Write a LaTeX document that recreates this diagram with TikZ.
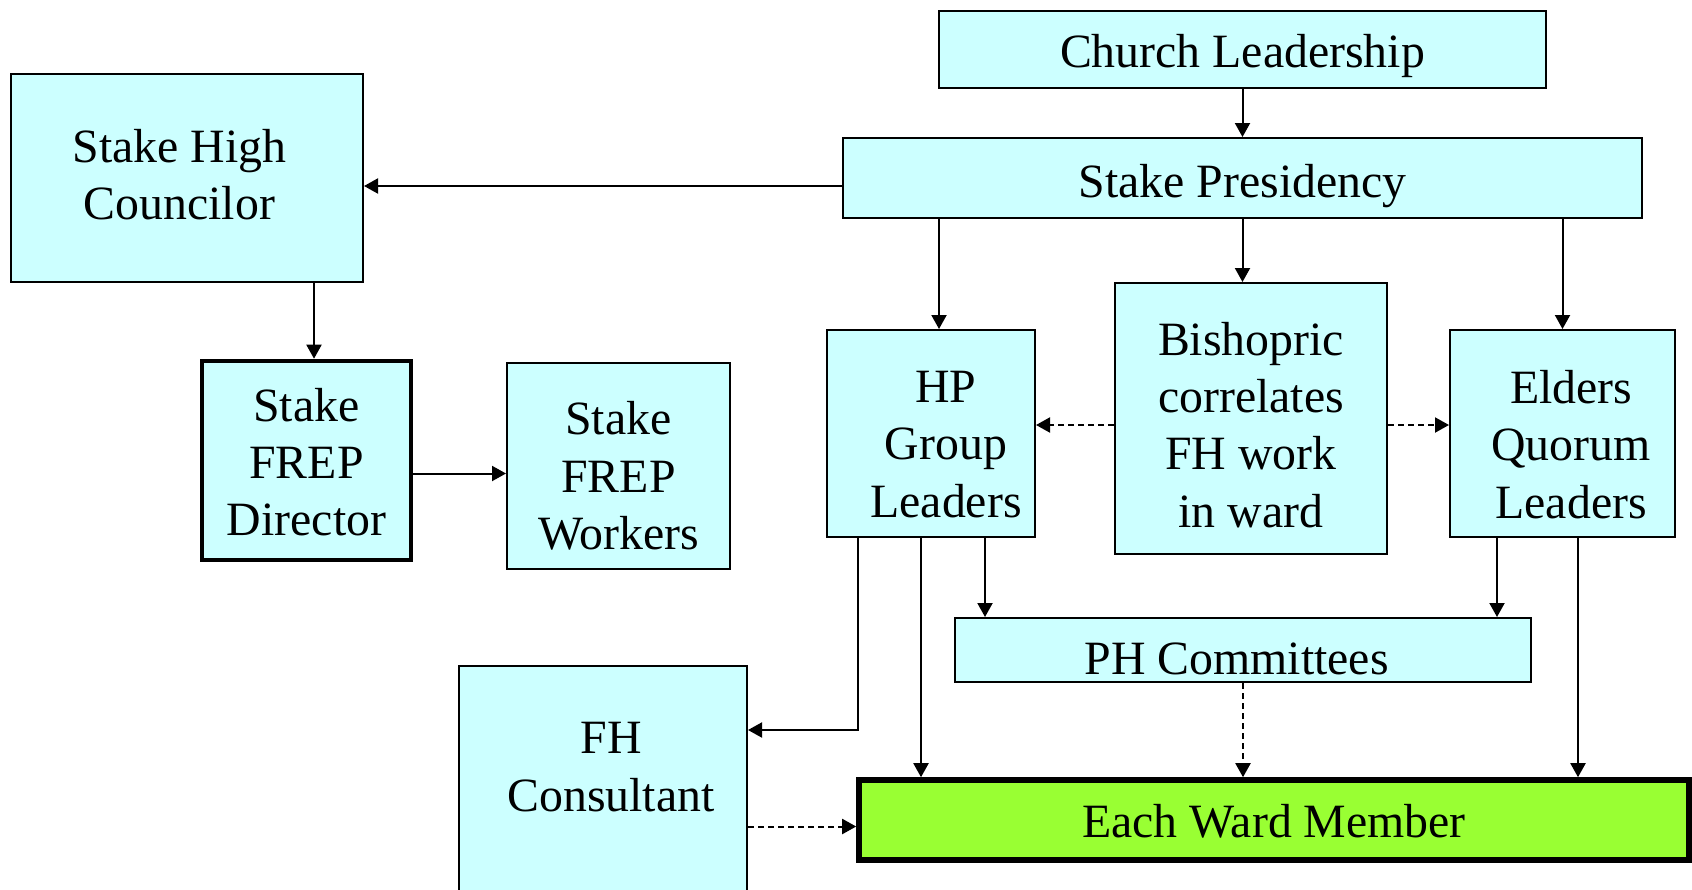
\documentclass[tikz,border=0pt]{standalone}
\usepackage{fontspec}
\setmainfont{Liberation Serif}
\usetikzlibrary{arrows.meta}
\definecolor{boxcyan}{HTML}{CCFFFF}
\definecolor{boxgreen}{HTML}{99FF33}
\tikzset{
  orgbox/.style={draw=black, line width=1pt, fill=boxcyan, inner sep=0pt},
  thickbox/.style={orgbox, line width=2.3pt},
  txt/.style={align=center, inner sep=0pt, font=\fontsize{23.9}{28.7}\selectfont},
  arr/.style={draw=black, line width=1pt, -{Triangle[length=7pt,width=7.5pt]}},
  darr/.style={arr, dash pattern=on 3pt off 2pt},
}
\begin{document}
\begin{tikzpicture}[x=0.5pt, y=-0.5pt]
\clip (0,0) rectangle (1692,889);
\fill[white] (0,0) rectangle (1692,889);
% boxes
\node[orgbox, minimum width=303.5pt, minimum height=38.5pt] (cl) at (1242.5,49.5) {};
\node[orgbox, minimum width=399.5pt, minimum height=40pt] (sp) at (1242.5,178) {};
\node[orgbox, minimum width=176pt, minimum height=104pt] (shc) at (187,178) {};
\node[thickbox, minimum width=104.5pt, minimum height=99.5pt] (dir) at (306.5,460.5) {};
\node[orgbox, minimum width=111.5pt, minimum height=103pt] (wrk) at (618.5,466) {};
\node[orgbox, minimum width=104pt, minimum height=103.5pt] (hp) at (931,433.5) {};
\node[orgbox, minimum width=136pt, minimum height=135.5pt] (bis) at (1251,418.5) {};
\node[orgbox, minimum width=112.5pt, minimum height=103.5pt] (eq) at (1562.5,433.5) {};
\node[orgbox, minimum width=288pt, minimum height=32pt] (ph) at (1243,650) {};
\node[orgbox, minimum width=144pt, minimum height=127pt] (fhc) at (603,793) {};
\node[orgbox, fill=boxgreen, line width=2.8pt, minimum width=415pt, minimum height=40pt] (ewm) at (1274,820) {};
% texts
\node[txt] (clt) at ([yshift=-3.2pt]cl.center) {Church Leadership};
\node[txt] (spt) at ([yshift=-3.8pt]sp.center) {Stake Presidency};
\node[txt] (shct) at ([xshift=-3.8pt,yshift=1.6pt]shc.center) {Stake High\\Councilor};
\node[txt] (dirt) at ([yshift=-0.8pt]dir.center) {Stake\\FREP\\Director};
\node[txt] (wrkt) at ([yshift=-4.9pt]wrk.center) {Stake\\FREP\\Workers};
\node[txt] (hpt) at ([xshift=7.5pt,yshift=-5.4pt]hp.center) {HP\\Group\\Leaders};
\node[txt] (bist) at ([yshift=-3.2pt]bis.center) {Bishopric\\correlates\\FH work\\in ward};
\node[txt] (eqt) at ([xshift=4.3pt,yshift=-5.4pt]eq.center) {Elders\\Quorum\\Leaders};
\node[txt] (pht) at ([xshift=-3.2pt,yshift=-4.3pt]ph.center) {PH Committees};
\node[txt] (fhct) at (611,767) {FH\\Consultant};
\node[txt] (ewmt) at ([yshift=-0.5pt]ewm.center) {Each Ward Member};
% connectors
\draw[arr] (cl) -- (sp);
\draw[arr] ([yshift=-4pt]sp.west) -- ([yshift=-4pt]sp.west -| shc.east);
\draw[arr] ([xshift=4pt]hp.north |- sp.south) -- ([xshift=4pt]hp.north);
\draw[arr] (sp.south) -- (sp.south |- bis.north);
\draw[arr] (eq.north |- sp.south) -- (eq.north);
\draw[arr] ([xshift=3.75pt]dir.north |- shc.south) -- ([xshift=3.75pt]dir.north);
\draw[arr] ([yshift=-6.5pt]dir.east) -- ([yshift=-6.5pt]dir.east -| wrk.west);
\draw[darr] ([yshift=-3.25pt]bis.west) -- ([yshift=-3.25pt]bis.west -| hp.east);
\draw[darr] ([yshift=-3.25pt]bis.east) -- ([yshift=-3.25pt]bis.east -| eq.west);
\draw[arr] ([xshift=16pt]hp.south west) |- ([yshift=31.5pt]fhc.east);
\draw[arr] ([xshift=47.5pt]hp.south west) -- ([xshift=47.5pt]hp.south west |- ewm.north);
\draw[arr] ([xshift=79.5pt]hp.south west) -- ([xshift=79.5pt]hp.south west |- ph.north);
\draw[arr] ([xshift=24pt]eq.south west) -- ([xshift=24pt]eq.south west |- ph.north);
\draw[arr] ([xshift=64.5pt]eq.south west) -- ([xshift=64.5pt]eq.south west |- ewm.north);
\draw[darr] (ph.south) -- (ph.south |- ewm.north);
\draw[darr] ([yshift=-3.25pt]ewm.west -| fhc.east) -- ([yshift=-3.25pt]ewm.west);
\end{tikzpicture}
\end{document}
